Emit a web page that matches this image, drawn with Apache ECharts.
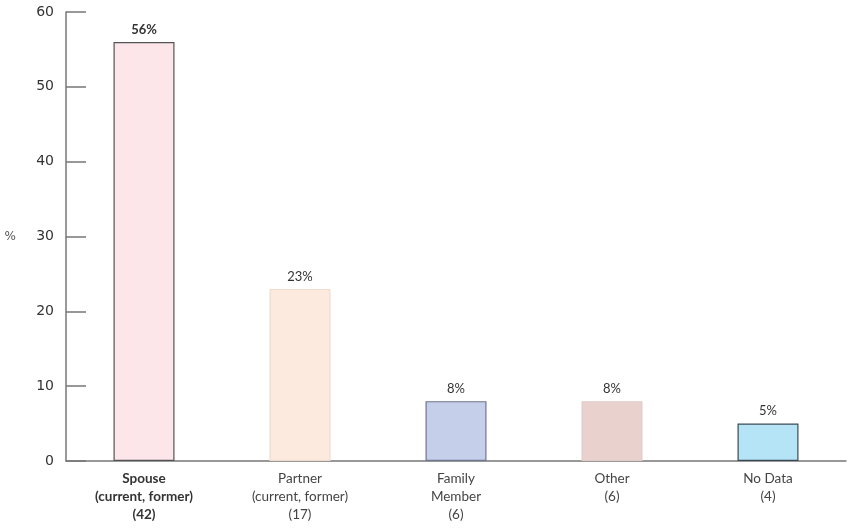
<!DOCTYPE html>
<html><head><meta charset="utf-8">
<script src="https://cdn.jsdelivr.net/npm/echarts@6/dist/echarts.min.js"></script>
<style>html,body{margin:0;padding:0;background:#fff}#c{width:848px;height:529px}</style>
</head><body><div id="c"></div>
<script>
var categories = ['Spouse\n(current, former)\n(42)', 'Partner\n(current, former)\n(17)', 'Family\nMember\n(6)', 'Other\n(6)', 'No Data\n(4)'];
var values = [56, 23, 8, 8, 5];
var fills = ['#fde6ea', '#fdeadf', '#c6cfea', '#e9d1ce', '#b5e4f6'];
var borders = ['#555555', '#f0dccf', '#6f7690', '#e2cbc8', '#3a4a55'];
var yTicks = [0, 10, 20, 30, 40, 50, 60];

var chart = echarts.init(document.getElementById('c'), null, {renderer: 'canvas'});
chart.setOption({
  animation: false,
  grid: {left: 66, right: 2, top: 12, bottom: 68},
  xAxis: {
    type: 'category', data: categories,
    axisLine: {lineStyle: {color: '#777', width: 1.5}},
    axisTick: {show: false},
    axisLabel: {
      color: '#444', fontFamily: 'Lato', fontSize: 13.5, lineHeight: 18, margin: 9,
      formatter: function (v, i) { return i === 0 ? '{b|' + v + '}' : v; },
      rich: {b: {fontWeight: 'bold', color: '#333', fontFamily: 'Lato', fontSize: 13.5, lineHeight: 18}}
    }
  },
  yAxis: {
    type: 'value', min: yTicks[0], max: yTicks[yTicks.length - 1], interval: 10,
    name: '%', nameLocation: 'middle', nameRotate: 0, nameGap: 50,
    nameTextStyle: {color: '#555', fontSize: 12, fontFamily: 'DejaVu Sans'},
    axisLine: {show: true, lineStyle: {color: '#777', width: 1.5}},
    axisTick: {show: true, inside: true, length: 20, lineStyle: {color: '#777', width: 1.5}},
    axisLabel: {color: '#333', fontSize: 14, fontFamily: 'DejaVu Sans', margin: 12},
    splitLine: {show: false}
  },
  series: [{
    type: 'bar', barWidth: 61,
    data: values.map(function (v, i) {
      return {value: v, itemStyle: {color: fills[i], borderColor: borders[i], borderWidth: 1.2},
        label: {fontWeight: i === 0 ? 'bold' : 'normal'}};
    }),
    label: {show: true, position: 'top', distance: 6, formatter: '{c}%', color: '#333', fontSize: 13, fontFamily: 'Lato'}
  }]
});
</script></body></html>
